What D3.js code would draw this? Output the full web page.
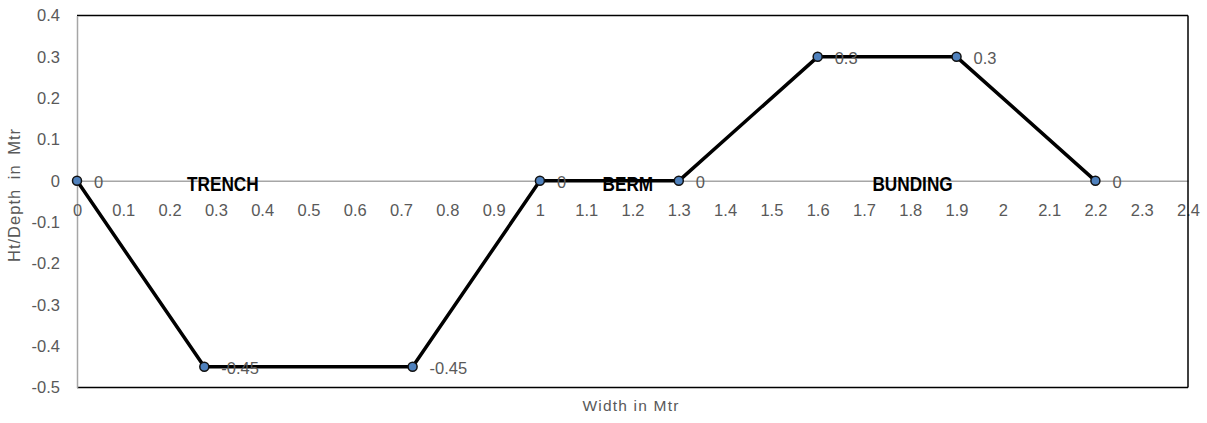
<!DOCTYPE html>
<html>
<head>
<meta charset="utf-8">
<script src="https://cdn.jsdelivr.net/npm/d3@7"></script>
<style>
  html, body { margin: 0; padding: 0; background: #fff; }
  svg { display: block; font-family: "Liberation Sans", Arial, sans-serif; }
</style>
</head>
<body>
<svg id="chart" width="1207" height="423"></svg>
<script>
// Cross-section profile: trench, berm and bunding
const widths = [0, 0.275, 0.725, 1, 1.3, 1.6, 1.9, 2.2];
const depths = [0, -0.45, -0.45, 0, 0, 0.3, 0.3, 0];
const pointLabels = ["0", "-0.45", "-0.45", "0", "0", "0.3", "0.3", "0"];

const xTicks = [0, 0.1, 0.2, 0.3, 0.4, 0.5, 0.6, 0.7, 0.8, 0.9, 1, 1.1, 1.2, 1.3, 1.4, 1.5, 1.6, 1.7, 1.8, 1.9, 2, 2.1, 2.2, 2.3, 2.4];
const yTicks = [0.4, 0.3, 0.2, 0.1, 0, -0.1, -0.2, -0.3, -0.4, -0.5];

const zoneNames = ["TRENCH", "BERM", "BUNDING"];
const zoneCentres = [0.315, 1.19, 1.805];

const svg = d3.select("#chart");
const plotLeft = 77, plotRight = 1188, plotTop = 15.5, plotBottom = 387.5;

const x = d3.scaleLinear().domain([0, 2.4]).range([plotLeft, plotRight]);
const y = d3.scaleLinear().domain([-0.5, 0.4]).range([plotBottom, plotTop]);

const labelColor = "#595959";
const labelSize = 16.5;

// Plot frame: top and bottom edges
svg.append("line").attr("x1", plotLeft).attr("x2", plotRight).attr("y1", plotTop).attr("y2", plotTop)
  .attr("stroke", "#000").attr("stroke-width", 1.5);
svg.append("line").attr("x1", plotLeft).attr("x2", plotRight).attr("y1", plotBottom).attr("y2", plotBottom)
  .attr("stroke", "#000").attr("stroke-width", 1.5);

// Y axis (gray spine + labels)
const yAxis = d3.axisLeft(y).tickValues(yTicks).tickSize(0).tickPadding(17)
  .tickFormat(d => String(+d.toFixed(1)));
const gy = svg.append("g").attr("transform", `translate(${plotLeft},0)`).call(yAxis);
gy.select(".domain").attr("stroke", "#a6a6a6").attr("stroke-width", 1.5);
gy.attr("font-size", labelSize).attr("font-family", "Liberation Sans, Arial, sans-serif");
gy.selectAll("text").attr("fill", labelColor);

// X axis drawn along the zero line
const xAxis = d3.axisBottom(x).tickValues(xTicks).tickSize(0).tickPadding(23)
  .tickFormat(d => String(+d.toFixed(1)));
const gx = svg.append("g").attr("transform", `translate(0,${y(0)})`).call(xAxis);
gx.select(".domain").attr("stroke", "#a6a6a6").attr("stroke-width", 1.5);
gx.attr("font-size", labelSize).attr("font-family", "Liberation Sans, Arial, sans-serif");
gx.selectAll("text").attr("fill", labelColor);

// Right frame edge (drawn above the last tick label)
svg.append("line").attr("x1", plotRight).attr("x2", plotRight).attr("y1", plotTop).attr("y2", plotBottom)
  .attr("stroke", "#000").attr("stroke-width", 1.5);

// Zone names (bold, condensed horizontally)
svg.append("g").selectAll("text").data(zoneNames).join("text")
  .attr("transform", (d, i) => `translate(${x(zoneCentres[i])},${y(0) + 10}) scale(0.82,1)`)
  .attr("text-anchor", "middle")
  .attr("font-weight", "bold")
  .attr("font-size", 21)
  .attr("fill", "#000")
  .text(d => d);

// Profile line
const pts = widths.map((w, i) => [w, depths[i]]);
svg.append("path")
  .datum(pts)
  .attr("fill", "none")
  .attr("stroke", "#000")
  .attr("stroke-width", 3.5)
  .attr("stroke-linejoin", "round")
  .attr("d", d3.line().x(d => x(d[0])).y(d => y(d[1])));

// Markers
svg.append("g").selectAll("circle").data(pts).join("circle")
  .attr("cx", d => x(d[0]))
  .attr("cy", d => y(d[1]))
  .attr("r", 4.5)
  .attr("fill", "#4f81bd")
  .attr("stroke", "#111")
  .attr("stroke-width", 1.5);

// Data labels
svg.append("g").selectAll("text").data(pts).join("text")
  .attr("x", d => x(d[0]) + 17)
  .attr("y", d => y(d[1]) + 7.5)
  .attr("fill", labelColor)
  .attr("font-size", labelSize)
  .text((d, i) => pointLabels[i]);

// Axis titles
svg.append("text")
  .attr("x", 631)
  .attr("y", 411)
  .attr("text-anchor", "middle")
  .attr("fill", labelColor)
  .attr("font-size", 15.5)
  .attr("letter-spacing", 1.2)
  .text("Width in Mtr");

svg.append("text")
  .attr("transform", `translate(20,195) rotate(-90)`)
  .attr("text-anchor", "middle")
  .attr("fill", labelColor)
  .attr("font-size", 16.5)
  .attr("letter-spacing", 1)
  .attr("word-spacing", 4)
  .text("Ht/Depth in Mtr");
</script>
</body>
</html>
